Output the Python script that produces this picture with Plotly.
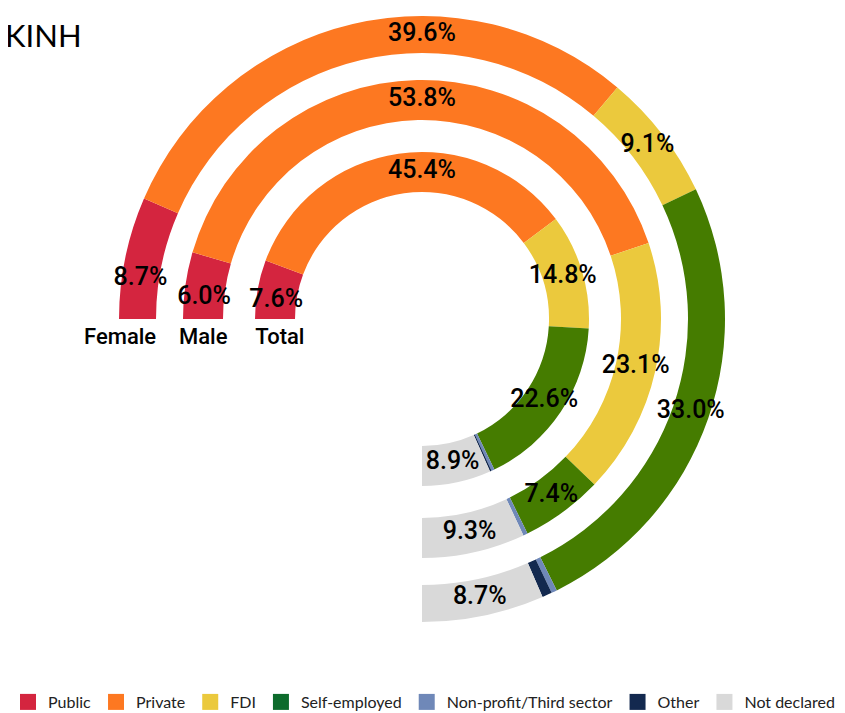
import math
import plotly.graph_objects as go

# ---------------- data ----------------
rings = ["Female", "Male", "Total"]
categories = ["Public", "Private", "FDI", "Self-employed",
              "Non-profit/Third sector", "Other", "Not declared"]
public = [8.7, 6.0, 7.6]
private = [39.6, 53.8, 45.4]
fdi = [9.1, 23.1, 14.8]
self_employed = [33.0, 7.4, 22.6]
non_profit = [0.4, 0.4, 0.4]
other = [0.7, 0.0, 0.2]
not_declared = [8.7, 9.3, 8.9]
title_text = "KINH"

# ---------------- style ----------------
series = [public, private, fdi, self_employed, non_profit, other, not_declared]
ring_colors = ["#d4253f", "#fd7821", "#ebc93d", "#457c00", "#6f88b8", "#13294f", "#d9d9d9"]
legend_colors = ["#d4253f", "#fd7821", "#ebc93d", "#0d6b2c", "#6f88b8", "#13294f", "#d9d9d9"]
show_label = [True, True, True, True, False, False, True]
ring_inner = [266, 199, 127]
ring_thick = [37, 40, 40]
SWEEP = 270.0
W, H = 845, 713
PAGE_OFF = 8          # default body margin of the html page
CX, CY, R = 422 - PAGE_OFF, 319 - PAGE_OFF, 310
NAME_DROP = 9         # px the ring names sit below the ring start

fig = go.Figure()

totals = [sum(s[i] for s in series) for i in range(len(rings))]
cum = [0.0] * len(rings)
lab_r, lab_t, lab_txt = [], [], []
for k, (cat, vals) in enumerate(zip(categories, series)):
    widths, centers = [], []
    for i in range(len(rings)):
        w = vals[i] / totals[i] * SWEEP
        start = cum[i] / totals[i] * SWEEP
        widths.append(w)
        centers.append(start + w / 2)
        cum[i] += vals[i]
        if show_label[k]:
            end = start + w
            if start < 90 < end:
                t = 90
            elif k == 0:
                t = start + 0.35 * w
            else:
                t = start + w / 2
            lab_r.append(ring_inner[i] + ring_thick[i] / 2)
            lab_t.append(t)
            lab_txt.append(f"{vals[i]:.1f}%")
    fig.add_trace(go.Barpolar(
        r=ring_thick, base=ring_inner, theta=centers, width=widths,
        marker=dict(color=ring_colors[k], line=dict(width=0)),
        name=cat, showlegend=False, hoverinfo="skip",
    ))

fig.add_trace(go.Scatterpolar(
    r=lab_r, theta=lab_t, text=lab_txt, mode="text",
    textfont=dict(family="Roboto", size=25, color="black", weight=500),
    showlegend=False, hoverinfo="skip",
))

# ring names under the start of each ring
name_r = [ring_inner[0], ring_inner[1] + ring_thick[1] / 2, ring_inner[2] + ring_thick[2]]
name_t = [-math.degrees(math.atan(NAME_DROP / r)) for r in name_r]
fig.add_trace(go.Scatterpolar(
    r=name_r, theta=name_t, text=rings, mode="text",
    textposition=["bottom left", "bottom center", "bottom right"],
    textfont=dict(family="Roboto", size=22, color="black", weight=500),
    showlegend=False, hoverinfo="skip",
))

for cat, col in zip(categories, legend_colors):
    fig.add_trace(go.Scatter(
        x=[None], y=[None], mode="markers", name=cat,
        marker=dict(symbol="square", size=16, color=col),
    ))

fig.add_annotation(
    text=title_text, x=0, y=1 - 27 / H, xref="paper", yref="paper",
    xanchor="left", yanchor="middle", xshift=-5, showarrow=False,
    font=dict(family="Lato", size=31, color="black"),
)

fig.update_layout(
    width=W, height=H,
    margin=dict(l=0, r=0, t=0, b=0, autoexpand=False),
    paper_bgcolor="white", plot_bgcolor="white",
    polar=dict(
        domain=dict(x=[(CX - R) / W, (CX + R) / W], y=[1 - (CY + R) / H, 1 - (CY - R) / H]),
        bgcolor="white",
        radialaxis=dict(range=[0, R], visible=False),
        angularaxis=dict(direction="clockwise", rotation=180, visible=False),
        bargap=0,
    ),
    xaxis=dict(visible=False), yaxis=dict(visible=False),
    legend=dict(orientation="h", x=0, xanchor="left", y=2 / H, yanchor="bottom",
                font=dict(family="Lato", size=16, color="#222"),
                itemwidth=30, tracegroupgap=0),
    showlegend=True,
)

fig.write_html("out.html")
